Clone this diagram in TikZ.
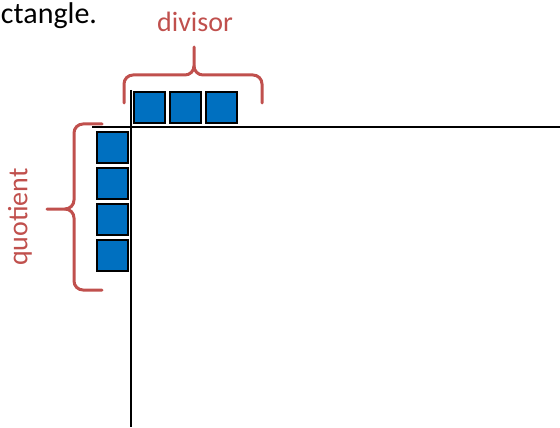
\documentclass[tikz,border=0pt]{standalone}
\usepackage{fontspec}
\setmainfont{Carlito}
\definecolor{braceRed}{RGB}{192,80,77}
\definecolor{tileBlue}{RGB}{0,112,192}

\begin{document}
\begin{tikzpicture}[x = 0.5pt, y = -0.5pt, line width = 1pt,
		tile/.style = {draw = black, fill = tileBlue, minimum size = 15.5pt, inner sep = 0pt},
		curly/.style = {draw = braceRed, line width = 1.5pt, line cap = round},
		lbl/.style = {text = braceRed, font = \fontsize{14}{16}\selectfont}]
			\useasboundingbox (0,0) rectangle (560,427);
			\node[anchor = base west, inner sep = 0pt, font = \fontsize{15}{18}\selectfont] (head) at (0,24) {ctangle.};
			\coordinate (vtop) at (131,90);
			\coordinate (vbot) at (131,427);
			\coordinate (hleft) at (92,127);
			\coordinate (hright) at (560,127);
			\draw (vtop) -- (vbot);
			\draw (hleft) -- (hright);
			\foreach \i in {0,1,2}
				\node[tile] (div\i) at (149.5+36*\i,107.5) {};
			\foreach \i in {0,1,2,3}
				\node[tile] (quo\i) at (112,147.5+36*\i) {};
			% braces
			\coordinate (dl) at (124,103);
			\coordinate (dr) at (262,103);
			\coordinate (dtip) at (194,47);
			\coordinate (qt) at (102,124);
			\coordinate (qb) at (102,290);
			\coordinate (qtip) at (47,209);
			\draw[curly] (dl) -- (124,84) to[out=90, in=180] (133,75) -- (185,75) to[out=0, in=-90] (194,66) -- (dtip);
			\draw[curly] (194,66) to[out=-90, in=180] (203,75) -- (253,75) to[out=0, in=90] (262,84) -- (dr);
			\draw[curly] (qt) -- (83,124) to[out=180, in=90] (74,133) -- (74,200) to[out=-90, in=0] (65,209) -- (qtip);
			\draw[curly] (65,209) to[out=0, in=90] (74,218) -- (74,281) to[out=-90, in=180] (83,290) -- (qb);
			\node[lbl] (divisor) at (195,22) {divisor};
			\node[lbl, rotate = 90] (quotient) at (20,217) {quotient};
\end{tikzpicture}
\end{document}
